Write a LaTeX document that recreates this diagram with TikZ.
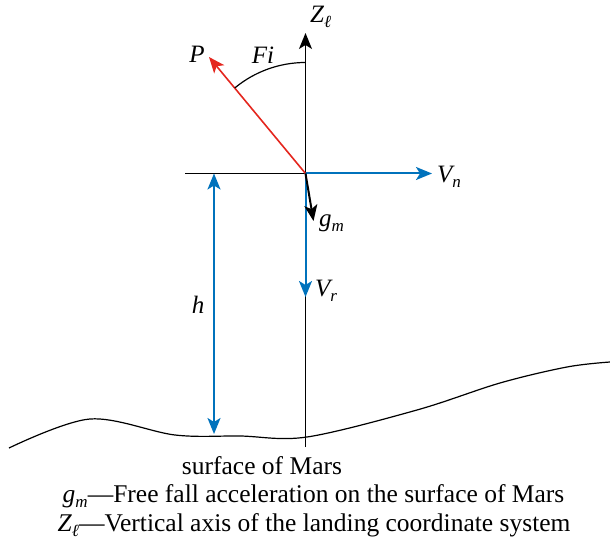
\documentclass[tikz,border=0pt]{standalone}
\usepackage{fontspec}
\setmainfont{Liberation Serif}
\usetikzlibrary{arrows.meta}

\definecolor{velblue}{RGB}{0,114,188}
\definecolor{thrustred}{RGB}{228,38,30}

% indice en italique, sans mode mathématique
\newcommand{\lowsub}[1]{\raisebox{-0.22em}{\fontsize{17}{17}\selectfont\itshape #1}}

\tikzset{
  lbl/.style={font=\rmfamily\itshape\fontsize{25}{28}\selectfont, inner sep=1pt},
  caption/.style={font=\rmfamily\fontsize{25.5}{28}\selectfont, inner sep=0pt},
  tip/.style={-{Stealth[length=16pt, width=13pt, inset=4pt]}},
  vec/.style={line width=2pt, tip},
}

\begin{document}
\begin{tikzpicture}[x=1pt, y=1pt]
        \useasboundingbox (0,0) rectangle (610,541);

        % --- Points de référence (repère d'atterrissage) ---
        \coordinate (O)      at (305.5, 367.5);   % Origine
        \coordinate (ZTop)   at (305.5, 508);     % Sommet de l'axe Z
        \coordinate (ZBot)   at (305.5, 94);      % Pied de l'axe Z
        \coordinate (HLeft)  at (185, 367.5);     % Bout gauche de l'horizontale
        \coordinate (PTip)   at (209, 484);       % Pointe de P
        \coordinate (VnTip)  at (432, 367.5);     % Pointe de V_n
        \coordinate (VrTip)  at (305.5, 244);     % Pointe de V_r
        \coordinate (gTip)   at (313.5, 320);     % Pointe de g_m
        \coordinate (hTop)   at (214, 367.5);     % Haut de la cote h
        \coordinate (hBot)   at (214, 107);       % Bas de la cote h

        % ==============================================================
        % 1. SURFACE DE MARS
        % ==============================================================
        \draw[line width=1.2pt] plot[smooth, tension=0.55] coordinates {
            (9,93) (90,122) (175,106) (240,105) (307,104)
            (417,131) (500,158) (567,174) (610,179)};

        % ==============================================================
        % 2. AXES
        % ==============================================================
        % Ligne horizontale
        \draw[line width=1.2pt] (HLeft) -- (O);

        % Axe vertical Z
        \draw[line width=1.5pt, tip] (ZBot) -- (ZTop);
        \node[lbl, anchor=west] (Zlab) at (309, 524) {Z\lowsub{ℓ}};

        % ==============================================================
        % 3. POUSSÉE P ET ANGLE Fi
        % ==============================================================
        \draw[thrustred, line width=1.6pt, tip] (O) -- (PTip);
        \node[lbl] (Plab) at (197, 487) {P};

        \draw[line width=1.2pt] ([shift={(90:111)}]O) arc[start angle=90, end angle=129.6, radius=111];
        \node[lbl] (Filab) at (263, 486) {Fi};

        % ==============================================================
        % 4. VITESSES ET GRAVITÉ
        % ==============================================================
        \draw[vec, velblue] (O) -- (VnTip);
        \node[lbl, anchor=west] (Vnlab) at (436, 364) {V\lowsub{n}};

        \draw[vec, velblue] (O) -- (VrTip);
        \node[lbl, anchor=west] (Vrlab) at (314, 250) {V\lowsub{r}};

        \draw[vec, black] (O) -- (gTip);
        \node[lbl, anchor=west] (gmlab) at (318, 318) {g\lowsub{m}};

        % Cote de hauteur h
        \draw[line width=2pt, velblue, {Stealth[length=16pt, width=13pt, inset=4pt]}-{Stealth[length=16pt, width=13pt, inset=4pt]}] (hBot) -- (hTop);
        \node[lbl] (hlab) at (198, 236) {h};

        % ==============================================================
        % 5. LÉGENDES
        % ==============================================================
        \node[caption] (surf) at (262, 75) {surface of Mars};
        \node[caption] (leg1) at (313.5, 45) {\textit{g}\lowsub{m}—Free fall acceleration on the surface of Mars};
        \node[caption] (leg2) at (314, 16) {\textit{Z}\lowsub{ℓ}—Vertical axis of the landing coordinate system};
    \end{tikzpicture}
\end{document}
